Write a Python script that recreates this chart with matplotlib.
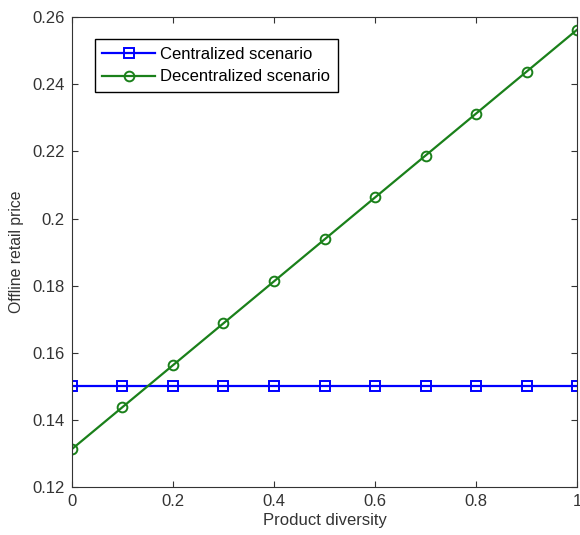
import numpy as np
import matplotlib.pyplot as plt

plt.rcParams['font.family'] = ['Liberation Sans', 'DejaVu Sans']

diversity = [0, 0.1, 0.2, 0.3, 0.4, 0.5, 0.6, 0.7, 0.8, 0.9, 1.0]
centralized = [0.15, 0.15, 0.15, 0.15, 0.15, 0.15, 0.15, 0.15, 0.15, 0.15, 0.15]
decentralized = [0.1313, 0.1438, 0.1563, 0.1688, 0.1813, 0.1938,
                 0.2063, 0.2188, 0.2313, 0.2438, 0.2563]

fig = plt.figure(figsize=(5.8, 5.35), dpi=100)
ax = fig.add_axes([0.124, 0.0897, 0.871, 0.878])

ax.plot(diversity, centralized, '-s', color='#0000ff', lw=1.6, ms=7,
        mfc='none', mew=1.4, label='Centralized scenario')
ax.plot(diversity, decentralized, '-o', color='#1a801a', lw=1.6, ms=7,
        mfc='none', mew=1.4, label='Decentralized scenario')

ax.set_xlim(0, 1)
ax.set_ylim(0.12, 0.26)
ax.set_xticks([0, 0.2, 0.4, 0.6, 0.8, 1])
ax.set_xticklabels(['0', '0.2', '0.4', '0.6', '0.8', '1'])
ax.set_yticks(np.arange(0.12, 0.261, 0.02))
ax.set_yticklabels(['0.12', '0.14', '0.16', '0.18', '0.2', '0.22', '0.24', '0.26'])
ax.tick_params(direction='in', top=True, right=True, length=4, pad=5,
               labelsize=12, colors='#333333', labelcolor='#333333')
for s in ax.spines.values():
    s.set_color('#333333')

ax.set_xlabel('Product diversity', fontsize=12, color='#333333', labelpad=3)
ax.set_ylabel('Offline retail price', fontsize=11.3, color='#333333', labelpad=6)

leg = ax.legend(loc='upper left', bbox_to_anchor=(0.045, 0.953), fontsize=12,
                handlelength=3.2, fancybox=False, framealpha=1,
                edgecolor='#000000', borderpad=0.45, labelspacing=0.45,
                handletextpad=0.3, borderaxespad=0)
leg.get_frame().set_linewidth(1.0)

fig.savefig('out.png', dpi=100)
